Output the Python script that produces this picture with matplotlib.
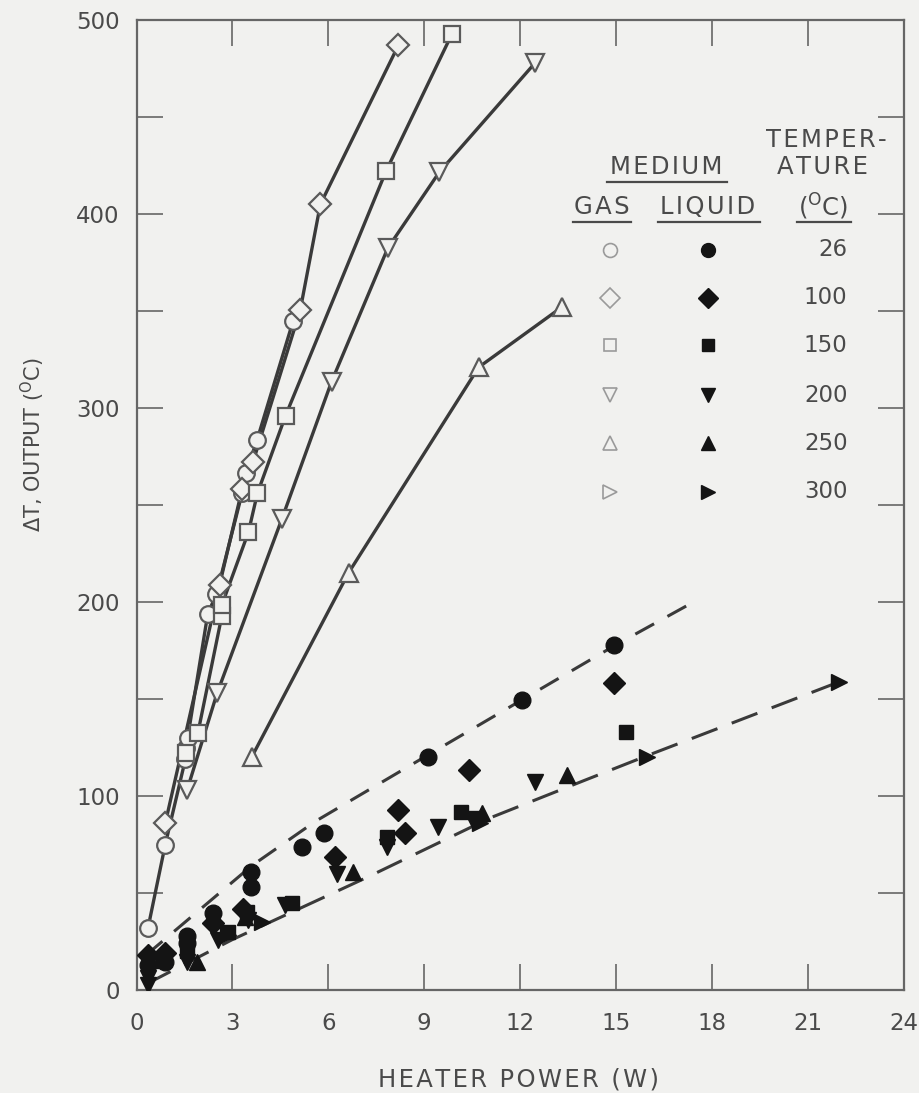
import matplotlib
matplotlib.use("Agg")
import matplotlib.pyplot as plt
from matplotlib.lines import Line2D

plt.rcParams['font.family'] = ['DejaVu Sans']
plt.rcParams['mathtext.fontset'] = 'dejavusans'

# ---------------- data ----------------
temps = ["26", "100", "150", "200", "250", "300"]

# gas (open markers, solid lines)
gas26_x = [0.36, 0.9, 1.53, 1.55, 1.6, 2.23, 2.5, 3.3, 3.42, 3.77, 4.9]
gas26_y = [32, 75, 119, 125, 130, 194, 204, 256, 266.5, 283.5, 345]
gas100_x = [0.9, 2.6, 3.3, 3.64, 5.12, 5.75, 8.19]
gas100_y = [86, 209, 258, 272, 350.5, 405, 487]
gas150_x = [1.55, 1.92, 2.67, 2.67, 3.5, 3.78, 4.66, 7.8, 9.87]
gas150_y = [122, 132.5, 193, 198.5, 236, 256, 296, 422, 493]
gas200_x = [1.58, 2.52, 4.55, 6.1, 7.86, 9.47, 12.47]
gas200_y = [103, 153, 243, 313.6, 382.5, 421.6, 478]
gas250_x = [3.6, 6.63, 10.7, 13.3]
gas250_y = [120, 215, 321, 352]

# liquid (filled markers)
liq26_x = [0.37, 0.89, 1.59, 1.59, 2.4, 3.58, 3.58, 5.16, 5.86, 9.12, 12.05, 14.92]
liq26_y = [12.9, 14.6, 24.4, 27.8, 39.5, 61, 53, 73.9, 81, 120.3, 149.5, 178]
liq100_x = [0.37, 0.89, 2.4, 3.34, 6.2, 8.18, 8.39, 10.4, 14.92]
liq100_y = [18, 18.9, 34.4, 42, 68.7, 92.8, 81, 113.4, 158]
liq150_x = [0.83, 1.59, 2.87, 3.45, 4.85, 7.82, 10.16, 15.3]
liq150_y = [15, 20, 30, 40, 44.7, 79, 92, 133]
liq200_x = [0.37, 0.37, 1.59, 2.56, 3.5, 4.64, 6.28, 7.82, 9.43, 10.5, 12.45]
liq200_y = [6, 2.6, 14.6, 25.8, 36, 43.8, 59.8, 73.9, 84.2, 88, 107.4]
liq250_x = [1.88, 3.39, 6.78, 10.8, 13.45]
liq250_y = [14.6, 37.6, 61, 91, 111]
liq300_x = [2.87, 3.94, 10.73, 15.95, 21.98]
liq300_y = [28.4, 35.2, 86, 120, 159]

# dashed trend lines for liquid data
upper_x = [0.3, 3.6, 5.6, 9.1, 12.1, 15.0, 17.2]
upper_y = [18, 64, 87, 121, 150, 178, 198]
lower_x = [0.3, 3.0, 7.2, 11.1, 14.0, 16.0, 22.0]
lower_y = [3, 26, 58, 89, 108, 121, 159]

x_ticks = [0, 3, 6, 9, 12, 15, 18, 21, 24]
y_ticks = [0, 100, 200, 300, 400, 500]

# ---------------- style ----------------
BG = "#f1f1ef"
LINE = "#3a3a3a"
EDGE = "#5a5a5a"
TXT = "#4a4a4a"
FS = 16.5
FSL = 17.5


def tracked(s):
    """Widen letter spacing with hair spaces, as in the typeset original."""
    return "\u200a".join(s)


fig = plt.figure(figsize=(9.2, 10.93), dpi=100, facecolor=BG)
ax = fig.add_axes([136.5 / 920, 1 - 990 / 1093, (904 - 136.5) / 920, (990 - 20) / 1093])
ax.set_facecolor(BG)

gas_marker_kw = dict(markerfacecolor=BG, markeredgecolor=EDGE, markeredgewidth=1.6)
gas_sets = [(gas26_x, gas26_y, 'o', 12), (gas100_x, gas100_y, 'D', 11),
            (gas150_x, gas150_y, 's', 11), (gas200_x, gas200_y, 'v', 13),
            (gas250_x, gas250_y, '^', 13)]
for gx, gy, m, ms in gas_sets:
    ax.plot(gx, gy, '-', color=LINE, lw=2.4, zorder=2)
    ax.plot(gx, gy, linestyle='none', marker=m, markersize=ms, zorder=3, **gas_marker_kw)

ax.plot(upper_x, upper_y, color=LINE, lw=2.2, dashes=(7, 5), zorder=2)
ax.plot(lower_x, lower_y, color=LINE, lw=2.2, dashes=(9, 5), zorder=2)

liq_sets = [(liq26_x, liq26_y, 'o', 12), (liq100_x, liq100_y, 'D', 11),
            (liq150_x, liq150_y, 's', 10), (liq200_x, liq200_y, 'v', 12),
            (liq250_x, liq250_y, '^', 12), (liq300_x, liq300_y, '>', 12)]
for lx, ly, m, ms in liq_sets:
    ax.plot(lx, ly, linestyle='none', marker=m, markersize=ms, color='#141414',
            markeredgecolor='#141414', zorder=4)

ax.set_xlim(0, 24)
ax.set_ylim(0, 500)
ax.set_xticks(x_ticks)
ax.set_yticks(y_ticks)
ax.set_yticks(range(50, 500, 100), minor=True)
ax.tick_params(which='both', direction='in', top=True, right=True, length=19,
               width=1.2, color='#666666', labelsize=FS, labelcolor=TXT)
ax.tick_params(axis='x', pad=16)
ax.tick_params(axis='y', pad=12)
for s in ax.spines.values():
    s.set_color('#666666')
    s.set_linewidth(1.6)

fig.text(519 / 920, 1 - 1080 / 1093, tracked("HEATER POWER (W)"), ha='center',
         va='center', fontsize=FSL, color=TXT)
fig.text(33 / 920, 1 - 445 / 1093, r"$\Delta$T, OUTPUT ($^{\mathrm{O}}$C)", ha='center',
         va='center', rotation=90, fontsize=15, color=TXT)

# ---------------- legend (manual, in data units of the axes) ----------------
def px2d(px, py):
    return (px - 136.5) / 32.0, (990 - py) / 1.94

headers = [("TEMPER-", 827, 140), ("MEDIUM", 667, 167), ("ATURE", 823, 167),
           ("GAS", 602, 207), ("LIQUID", 708, 207)]
for label, px, py in headers:
    tx, ty = px2d(px, py)
    ax.text(tx, ty, tracked(label), ha='center', va='center', fontsize=FSL, color=TXT)
tx, ty = px2d(824, 207)
ax.text(tx, ty, r"($^{\mathrm{O}}$C)", ha='center', va='center', fontsize=FSL, color=TXT)

for (x1, x2, yy) in [(607, 727, 182), (573, 631, 222), (658, 760, 222), (797, 851, 222)]:
    a, b = px2d(x1, yy)
    c, _ = px2d(x2, yy)
    ax.add_line(Line2D([a, c], [b, b], color=TXT, lw=1.6))

row_py = [250, 298, 345, 395, 443, 492]
leg_markers = ['o', 'D', 's', 'v', '^', '>']
leg_sizes = [10, 10, 9, 10, 10, 10]
for t, py, m, ms in zip(temps, row_py, leg_markers, leg_sizes):
    gx, gy = px2d(610, py)
    ax.add_line(Line2D([gx], [gy], linestyle='none', marker=m, markersize=ms,
                       markerfacecolor=BG, markeredgecolor='#9a9a9a', markeredgewidth=1.2))
    lx, ly = px2d(708, py)
    ax.add_line(Line2D([lx], [ly], linestyle='none', marker=m, markersize=ms,
                       color='#141414'))
    nx, ny = px2d(848, py)
    ax.text(nx, ny, t, ha='right', va='center', fontsize=FS, color=TXT)

fig.savefig("out.png", dpi=100, facecolor=BG)
